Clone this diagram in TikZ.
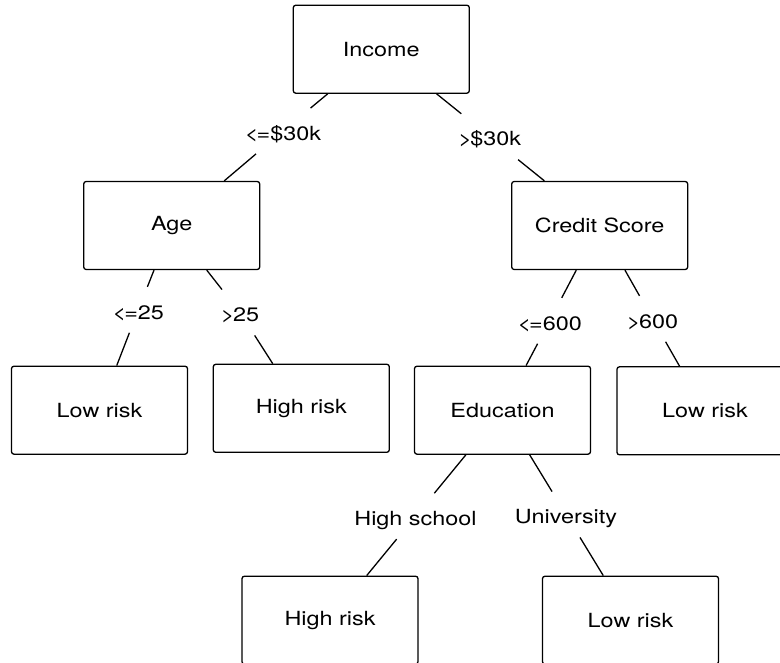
\documentclass[tikz,border=0pt]{standalone}
\usepackage{fontspec}
\setmainfont{TeX Gyre Heros}[FakeStretch=1.2]
\newcommand\treeFont{\fontsize{19.5}{23}\selectfont}
\newcommand\atMost{<\kern-2pt=}
\newcommand\moreThan{>\kern-1.5pt}
\begin{document}
\begin{tikzpicture}[x=1pt, y=-1pt,
    treebox/.style={draw, line width=1.3pt, rounded corners=2.5pt, inner sep=0pt,
        minimum width=\boxWidth pt, minimum height=\boxHeight pt, font=\treeFont},
    branch/.style={inner sep=1pt, minimum height=\labelHeight pt,
        text height=18.5pt, text depth=0pt, font=\treeFont},
    edge/.style={line width=1.3pt}]

% Parameters
\def\boxWidth{176}       % Width of each box
\def\boxHeight{88}       % Height of each box
\def\labelHeight{45.5}   % Gap that a branch label cuts out of its line

% Page frame (boxes at the right and bottom run off the page)
\useasboundingbox (0,0) rectangle (780,663);
\clip (0,0) rectangle (780,663);

% Decision and leaf boxes
\node[treebox] (income)    at (381.3,49.2)  {Income};
\node[treebox] (age)       at (171.7,225.5) {Age};
\node[treebox] (credit)    at (599.7,225.5) {Credit Score};
\node[treebox] (youngLeaf) at (99.5,410.2)  {Low risk};
\node[treebox] (oldLeaf)   at (301.3,408.3) {High risk};
\node[treebox] (education) at (502.5,410.2) {Education};
\node[treebox] (goodLeaf)  at (705,410.8)   {Low risk};
\node[treebox] (schoolLeaf) at (330,620.2)  {High risk};
\node[treebox] (univLeaf)  at (630.5,620.2) {Low risk};

% Branch labels
\node[branch] (lowIncome)  at (283,131)     {\atMost\$30k};
\node[branch] (highIncome) at (489.7,136.7) {\moreThan\$30k};
\node[branch] (young)      at (138.3,309.8) {\atMost25};
\node[branch] (old)        at (240,312.5)   {\moreThan25};
\node[branch] (lowScore)   at (549.7,320.8) {\atMost600};
\node[branch] (highScore)  at (652.5,318.8) {\moreThan600};
\node[branch] (school)     at (415.5,516.2) {High school};
\node[branch] (univ)       at (566,514.5)   {University};

% Branches: parent -- label -- child
\foreach \from/\via/\to in {income/lowIncome/age, income/highIncome/credit,
    age/young/youngLeaf, age/old/oldLeaf,
    credit/lowScore/education, credit/highScore/goodLeaf,
    education/school/schoolLeaf, education/univ/univLeaf} {
    \draw[edge] (\from) -- (\via) -- (\to);
}

\end{tikzpicture}
\end{document}
